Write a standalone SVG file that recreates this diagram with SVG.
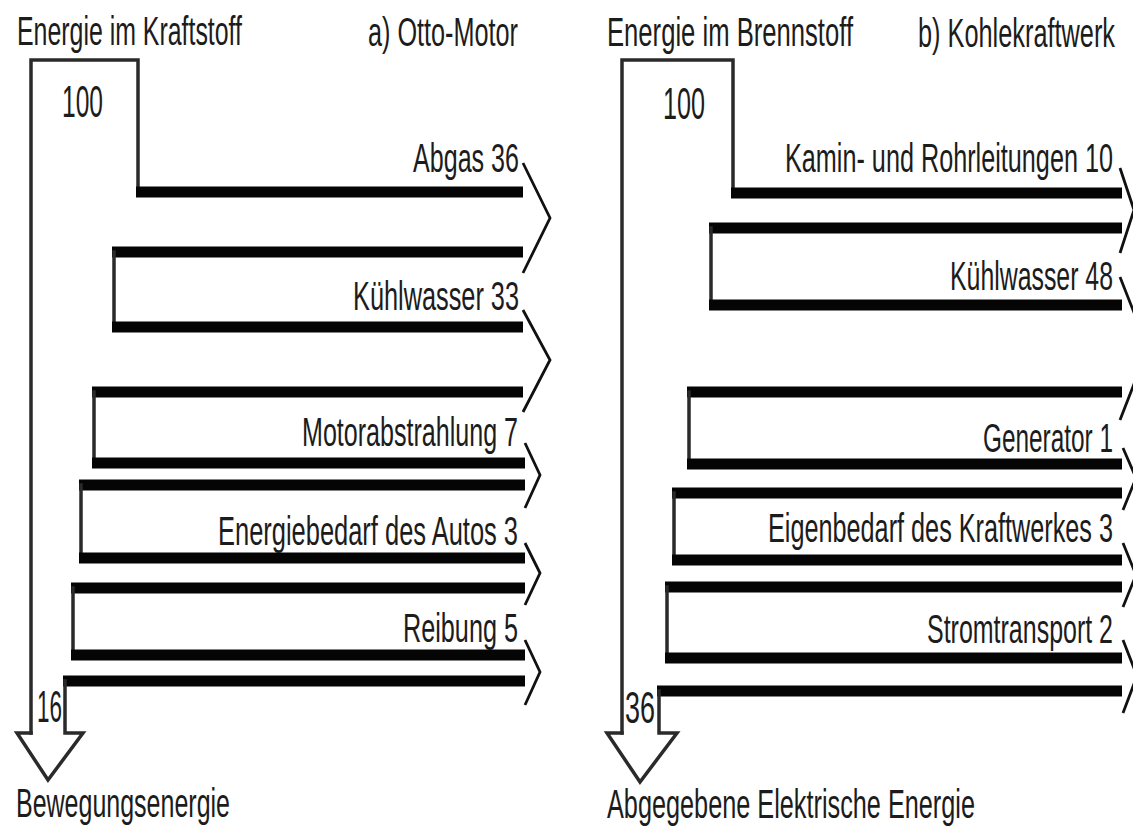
<svg xmlns="http://www.w3.org/2000/svg" width="1133" height="834" viewBox="0 0 1133 834">
<style>
  .bg{fill:#ffffff}
  .thin{fill:none;stroke:#2a2a2a;stroke-width:3.5;stroke-linecap:square;stroke-linejoin:miter}
  .thick{fill:none;stroke:#050505;stroke-width:11;stroke-linecap:butt}
  .chev{fill:none;stroke:#111;stroke-width:2.8;stroke-linejoin:miter}
  .lbl{font-family:"Liberation Sans",Arial,sans-serif;font-size:40px;fill:#1c1c1c}
  .num{font-family:"Liberation Sans",Arial,sans-serif;font-size:45px;fill:#1c1c1c}
</style>
<rect class="bg" x="0" y="0" width="1133" height="834"/>

<!-- a) Otto-Motor -->
<g id="otto-title">
  <text class="lbl" x="17" y="45" textLength="225" lengthAdjust="spacingAndGlyphs">Energie im Kraftstoff</text>
  <text class="lbl" x="368" y="46" textLength="150" lengthAdjust="spacingAndGlyphs">a) Otto-Motor</text>
</g>
<g id="otto-input">
  <path class="thin" d="M31,733 V60 H138 V192"/>
  <text class="num" x="62" y="117" textLength="41" lengthAdjust="spacingAndGlyphs">100</text>
</g>
<g id="otto-abgas">
  <line class="thick" x1="136" y1="192" x2="523" y2="192"/>
  <text class="lbl" x="413" y="172" textLength="106" lengthAdjust="spacingAndGlyphs">Abgas 36</text>
</g>
<g id="otto-kuehlwasser">
  <line class="thick" x1="112" y1="252" x2="523" y2="252"/>
  <line class="thin" x1="114" y1="252" x2="114" y2="327"/>
  <line class="thick" x1="112" y1="327" x2="523" y2="327"/>
  <text class="lbl" x="353" y="310" textLength="166" lengthAdjust="spacingAndGlyphs">Kühlwasser 33</text>
</g>
<g id="otto-motorabstrahlung">
  <line class="thick" x1="92" y1="392" x2="523" y2="392"/>
  <line class="thin" x1="94" y1="392" x2="94" y2="463"/>
  <line class="thick" x1="92" y1="463" x2="525" y2="463"/>
  <text class="lbl" x="302" y="446" textLength="216" lengthAdjust="spacingAndGlyphs">Motorabstrahlung 7</text>
</g>
<g id="otto-energiebedarf">
  <line class="thick" x1="79" y1="485" x2="525" y2="485"/>
  <line class="thin" x1="81" y1="485" x2="81" y2="558"/>
  <line class="thick" x1="79" y1="558" x2="525" y2="558"/>
  <text class="lbl" x="218" y="545" textLength="300" lengthAdjust="spacingAndGlyphs">Energiebedarf des Autos 3</text>
</g>
<g id="otto-reibung">
  <line class="thick" x1="71" y1="588" x2="525" y2="588"/>
  <line class="thin" x1="73" y1="588" x2="73" y2="655"/>
  <line class="thick" x1="71" y1="655" x2="525" y2="655"/>
  <text class="lbl" x="403" y="642" textLength="115" lengthAdjust="spacingAndGlyphs">Reibung 5</text>
</g>
<g id="otto-bewegung">
  <line class="thick" x1="63" y1="681" x2="525" y2="681"/>
  <path class="thin" d="M65,681 V733 H83 L48,780 L17,733 H31"/>
  <text class="num" x="37" y="722" textLength="25" lengthAdjust="spacingAndGlyphs">16</text>
  <text class="lbl" x="16" y="817" textLength="214" lengthAdjust="spacingAndGlyphs">Bewegungsenergie</text>
</g>

<!-- b) Kohlekraftwerk -->
<g id="kohle-title">
  <text class="lbl" x="607" y="46" textLength="246" lengthAdjust="spacingAndGlyphs">Energie im Brennstoff</text>
  <text class="lbl" x="918" y="47" textLength="197" lengthAdjust="spacingAndGlyphs">b) Kohlekraftwerk</text>
</g>
<g id="kohle-input">
  <path class="thin" d="M622,733 V60 H733 V193"/>
  <text class="num" x="663" y="119" textLength="42" lengthAdjust="spacingAndGlyphs">100</text>
</g>
<g id="kohle-kamin">
  <line class="thick" x1="731" y1="193" x2="1122" y2="193"/>
  <text class="lbl" x="785" y="172" textLength="328" lengthAdjust="spacingAndGlyphs">Kamin- und Rohrleitungen 10</text>
</g>
<g id="kohle-kuehlwasser">
  <line class="thick" x1="709" y1="228" x2="1122" y2="228"/>
  <line class="thin" x1="711" y1="228" x2="711" y2="305"/>
  <line class="thick" x1="709" y1="305" x2="1122" y2="305"/>
  <text class="lbl" x="950" y="290" textLength="163" lengthAdjust="spacingAndGlyphs">Kühlwasser 48</text>
</g>
<g id="kohle-generator">
  <line class="thick" x1="687" y1="392" x2="1122" y2="392"/>
  <line class="thin" x1="689" y1="392" x2="689" y2="464"/>
  <line class="thick" x1="687" y1="464" x2="1122" y2="464"/>
  <text class="lbl" x="983" y="452" textLength="130" lengthAdjust="spacingAndGlyphs">Generator 1</text>
</g>
<g id="kohle-eigenbedarf">
  <line class="thick" x1="672" y1="493" x2="1122" y2="493"/>
  <line class="thin" x1="674" y1="493" x2="674" y2="560"/>
  <line class="thick" x1="672" y1="560" x2="1122" y2="560"/>
  <text class="lbl" x="768" y="542" textLength="345" lengthAdjust="spacingAndGlyphs">Eigenbedarf des Kraftwerkes 3</text>
</g>
<g id="kohle-stromtransport">
  <line class="thick" x1="665" y1="587" x2="1122" y2="587"/>
  <line class="thin" x1="667" y1="587" x2="667" y2="658"/>
  <line class="thick" x1="665" y1="658" x2="1122" y2="658"/>
  <text class="lbl" x="927" y="643" textLength="186" lengthAdjust="spacingAndGlyphs">Stromtransport 2</text>
</g>
<g id="kohle-elektrisch">
  <line class="thick" x1="657" y1="691" x2="1122" y2="691"/>
  <path class="thin" d="M659,691 V733 H677 L640,782 L607,733 H622"/>
  <text class="num" x="625" y="723" textLength="30" lengthAdjust="spacingAndGlyphs">36</text>
  <text class="lbl" x="607" y="818" textLength="368" lengthAdjust="spacingAndGlyphs">Abgegebene Elektrische Energie</text>
</g>

<!-- connectors: arrowheads of the output flows -->
<g id="connectors">
  <polyline class="chev" points="523,163 550,218 523,273"/>
  <polyline class="chev" points="523,310 550,360 523,412"/>
  <polyline class="chev" points="525,443 540,475 525,508"/>
  <polyline class="chev" points="525,543 540,573 525,605"/>
  <polyline class="chev" points="525,640 540,672 525,705"/>
  <polyline class="chev" points="1120,168 1134,210 1120,253"/>
  <polyline class="chev" points="1120,277 1148,348 1120,420"/>
  <polyline class="chev" points="1123,448 1136,478 1123,510"/>
  <polyline class="chev" points="1123,543 1136,575 1123,607"/>
  <polyline class="chev" points="1123,640 1137,676 1123,713"/>
</g>
</svg>
